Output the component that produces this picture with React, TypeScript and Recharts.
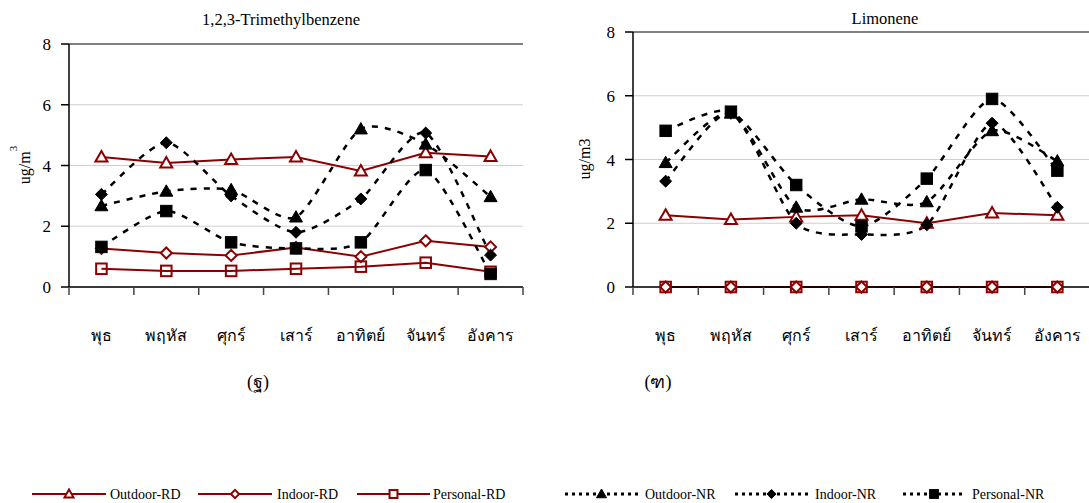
import React from "react";
import { LineChart, Line, XAxis, YAxis, CartesianGrid, ReferenceLine } from "recharts";

// Day categories and value axis
const days = ["พุธ", "พฤหัส", "ศุกร์", "เสาร์", "อาทิตย์", "จันทร์", "อังคาร"];
const yTicks = [0, 2, 4, 6, 8];
// category boundaries on the x axis (tick marks sit between the days)
const dayBounds = [0, 1, 2, 3, 4, 5, 6, 7];

// 1,2,3-Trimethylbenzene (ug/m3)
const tmbOutdoorRD = [4.28, 4.08, 4.2, 4.28, 3.82, 4.42, 4.3];
const tmbIndoorRD = [1.27, 1.12, 1.04, 1.3, 1.0, 1.52, 1.32];
const tmbPersonalRD = [0.6, 0.53, 0.53, 0.6, 0.67, 0.8, 0.5];
const tmbOutdoorNR = [2.67, 3.15, 3.2, 2.3, 5.2, 4.7, 2.97];
const tmbIndoorNR = [3.05, 4.75, 3.0, 1.8, 2.9, 5.07, 1.05];
const tmbPersonalNR = [1.32, 2.5, 1.47, 1.27, 1.47, 3.85, 0.43];

// Limonene (ug/m3)
const limOutdoorRD = [2.25, 2.12, 2.2, 2.25, 2.0, 2.32, 2.25];
const limIndoorRD = [0, 0, 0, 0, 0, 0, 0];
const limPersonalRD = [0, 0, 0, 0, 0, 0, 0];
const limOutdoorNR = [3.9, 5.45, 2.5, 2.75, 2.67, 4.9, 3.95];
const limIndoorNR = [3.32, 5.45, 2.0, 1.65, 1.95, 5.14, 2.5];
const limPersonalNR = [4.9, 5.5, 3.2, 1.9, 3.4, 5.9, 3.65];

const RED = "#8b0000";
const serif = "'Liberation Serif', 'Times New Roman', serif";

type Shape = "triangle" | "diamond" | "square";
type SeriesDef = { key: string; name: string; shape: Shape; nr: boolean };

const seriesDefs: SeriesDef[] = [
  { key: "outdoorRD", name: "Outdoor-RD", shape: "triangle", nr: false },
  { key: "indoorRD", name: "Indoor-RD", shape: "diamond", nr: false },
  { key: "personalRD", name: "Personal-RD", shape: "square", nr: false },
  { key: "outdoorNR", name: "Outdoor-NR", shape: "triangle", nr: true },
  { key: "indoorNR", name: "Indoor-NR", shape: "diamond", nr: true },
  { key: "personalNR", name: "Personal-NR", shape: "square", nr: true },
];

// each day sits in the middle of its slot on the numeric x axis
const buildRows = (vals: Record<string, number[]>) =>
  days.map((day, i) => {
    const row: Record<string, string | number> = { day, pos: i + 0.5 };
    seriesDefs.forEach((s) => (row[s.key] = vals[s.key][i]));
    return row;
  });

const tmbData = buildRows({
  outdoorRD: tmbOutdoorRD,
  indoorRD: tmbIndoorRD,
  personalRD: tmbPersonalRD,
  outdoorNR: tmbOutdoorNR,
  indoorNR: tmbIndoorNR,
  personalNR: tmbPersonalNR,
});

const limData = buildRows({
  outdoorRD: limOutdoorRD,
  indoorRD: limIndoorRD,
  personalRD: limPersonalRD,
  outdoorNR: limOutdoorNR,
  indoorNR: limIndoorNR,
  personalNR: limPersonalNR,
});

// Spreadsheet-style smoothed line: cubic Bezier through each point,
// handles taken from the neighbouring points (damped Catmull-Rom).
const smoothCurve = (context: any) => {
  let pts: [number, number][] = [];
  return {
    areaStart() {},
    areaEnd() {},
    lineStart() {
      pts = [];
    },
    point(x: number, y: number) {
      pts.push([+x, +y]);
    },
    lineEnd() {
      if (!pts.length) return;
      context.moveTo(pts[0][0], pts[0][1]);
      const t = 0.12;
      for (let i = 0; i < pts.length - 1; i++) {
        const p0 = pts[Math.max(i - 1, 0)];
        const p1 = pts[i];
        const p2 = pts[i + 1];
        const p3 = pts[Math.min(i + 2, pts.length - 1)];
        context.bezierCurveTo(
          p1[0] + (p2[0] - p0[0]) * t, p1[1] + (p2[1] - p0[1]) * t,
          p2[0] - (p3[0] - p1[0]) * t, p2[1] - (p3[1] - p1[1]) * t,
          p2[0], p2[1]
        );
      }
    },
  };
};

// Marker glyphs shared by the plots and the legend
const Marker = ({ shape, cx, cy, size, filled, hollow }: {
  shape: Shape; cx: number; cy: number; size: number; filled: boolean; hollow?: boolean;
}) => {
  const fill = filled ? "#000" : hollow ? "none" : "#fff";
  const stroke = filled ? "#000" : RED;
  const sw = filled ? 1 : 2;
  const r = size / 2;
  if (shape === "triangle") {
    const pts = `${cx},${cy - r} ${cx + r},${cy + r * 0.75} ${cx - r},${cy + r * 0.75}`;
    return <polygon points={pts} fill={fill} stroke={stroke} strokeWidth={sw} strokeLinejoin="miter" />;
  }
  if (shape === "diamond") {
    const d = r * 0.92;
    const pts = `${cx},${cy - d} ${cx + d},${cy} ${cx},${cy + d} ${cx - d},${cy}`;
    return <polygon points={pts} fill={fill} stroke={stroke} strokeWidth={sw} />;
  }
  const h = r * 0.88;
  return <rect x={cx - h} y={cy - h} width={h * 2} height={h * 2} fill={fill} stroke={stroke} strokeWidth={sw} />;
};

const Panel = ({ data, left, width, plotLeft, plotWidth, top, boxed }: {
  data: Record<string, string | number>[]; left: number; width: number; plotLeft: number;
  plotWidth: number; top: number; boxed: boolean;
}) => {
  const height = 360;
  const bottom = 30;
  const xAxisHeight = 43;
  const axisY = height - bottom - xAxisHeight;
  const bw = plotWidth / days.length;
  const rightMargin = width - plotLeft - plotWidth;

  // day name centred in the slot to the right of each boundary
  const renderDayLabel = (p: any) => {
    const k = p.payload.value as number;
    const x = Number(p.x);
    const y = Number(p.y);
    if (k >= days.length) return <g key={`lbl-${k}`} />;
    return (
      <text key={`lbl-${k}`} x={x + bw / 2} y={y + 46} textAnchor="middle" fontSize={16}
        fontFamily={serif} fill="#000">
        {days[k]}
      </text>
    );
  };

  return (
    <div style={{ position: "absolute", left, top: 0, width, height, overflow: "hidden" }}>
      <LineChart width={width} height={height} data={data}
        margin={{ top, right: rightMargin, bottom, left: 0 }}>
        <CartesianGrid vertical={false} stroke="#cfcfcf" strokeWidth={1} />
        <ReferenceLine y={8} stroke="#808080" strokeWidth={2} />
        <XAxis dataKey="pos" type="number" domain={[0, days.length]} ticks={dayBounds} interval={0}
          height={xAxisHeight} tickSize={8} tickMargin={0} tickLine={false}
          axisLine={{ stroke: "#000", strokeWidth: 1.5 }} tick={renderDayLabel} />
        <YAxis domain={[0, 8]} ticks={yTicks} width={plotLeft} tickSize={8} tickMargin={10}
          axisLine={{ stroke: "#000", strokeWidth: 1.5 }} tickLine={{ stroke: "#000", strokeWidth: 1.5 }}
          tick={{ fontSize: 17, fontFamily: serif, fill: "#000" }} />
        {boxed && (
          <YAxis yAxisId="r" orientation="right" width={0} domain={[0, 8]} tick={false} tickLine={false}
            axisLine={{ stroke: "#808080", strokeWidth: 2 }} />
        )}
        {seriesDefs.map((s) => (
          <Line key={s.key} dataKey={s.key} name={s.name}
            type={s.nr ? (smoothCurve as any) : "linear"}
            stroke={s.nr ? "#000" : RED}
            strokeWidth={s.nr ? 2.5 : 2}
            strokeDasharray={s.nr ? "6 7" : undefined}
            isAnimationActive={false}
            activeDot={false}
            dot={(p: any) => (
              <Marker key={`${s.key}-${p.index}`} shape={s.shape} cx={p.cx} cy={p.cy}
                size={s.nr ? 13 : 12} filled={s.nr} hollow={s.key === "personalRD"} />
            )} />
        ))}
      </LineChart>
      {/* tick marks at the day boundaries, hanging below the x axis */}
      <svg width={width} height={height} style={{ position: "absolute", left: 0, top: 0, pointerEvents: "none" }}>
        {dayBounds.map((b) => (
          <line key={`bt-${b}`} x1={plotLeft + b * bw} y1={axisY} x2={plotLeft + b * bw} y2={axisY + 8}
            stroke="#444" strokeWidth={1.5} />
        ))}
      </svg>
    </div>
  );
};

const legendItems = [
  { s: seriesDefs[0], x1: 32, x2: 106, tx: 110 },
  { s: seriesDefs[1], x1: 198, x2: 272, tx: 277 },
  { s: seriesDefs[2], x1: 357, x2: 430, tx: 433 },
  { s: seriesDefs[3], x1: 565, x2: 638, tx: 645 },
  { s: seriesDefs[4], x1: 735, x2: 808, tx: 815 },
  { s: seriesDefs[5], x1: 903, x2: 965, tx: 972 },
];

const App = () => (
  <div style={{ position: "absolute", left: 0, top: 0, width: 1089, height: 503, background: "#fff", overflow: "hidden" }}>
    <Panel data={tmbData} left={0} width={540} plotLeft={69} plotWidth={454} top={44} boxed />
    <Panel data={limData} left={540} width={560} plotLeft={93} plotWidth={457} top={32} boxed={false} />
    <svg width={1089} height={503} style={{ position: "absolute", left: 0, top: 0, pointerEvents: "none" }}
      fontFamily={serif}>
      <text x={281} y={25} textAnchor="middle" fontSize={16.5}>1,2,3-Trimethylbenzene</text>
      <text x={885} y={24} textAnchor="middle" fontSize={16.5}>Limonene</text>
      <text transform="translate(30,165) rotate(-90)" textAnchor="middle" fontSize={16}>
        ug/m<tspan dy={-13} fontSize={11}>3</tspan>
      </text>
      <text transform="translate(590,159) rotate(-90)" textAnchor="middle" fontSize={16}>ug/m3</text>
      <text x={258} y={388} textAnchor="middle" fontSize={18}>(ฐ)</text>
      <text x={658} y={388} textAnchor="middle" fontSize={18}>(ฑ)</text>
      {legendItems.map(({ s, x1, x2, tx }) => {
        const cy = 494;
        const mid = (x1 + x2) / 2;
        return (
          <g key={s.key}>
            <line x1={x1} y1={cy} x2={x2} y2={cy}
              stroke={s.nr ? "#000" : RED} strokeWidth={s.nr ? 3 : 2}
              strokeDasharray={s.nr ? "3 4" : undefined} />
            <Marker shape={s.shape} cx={mid} cy={cy} size={s.nr ? 10 : 9} filled={s.nr} />
            <text x={tx} y={cy + 5} fontSize={14}>{s.name}</text>
          </g>
        );
      })}
    </svg>
  </div>
);

export default App;
